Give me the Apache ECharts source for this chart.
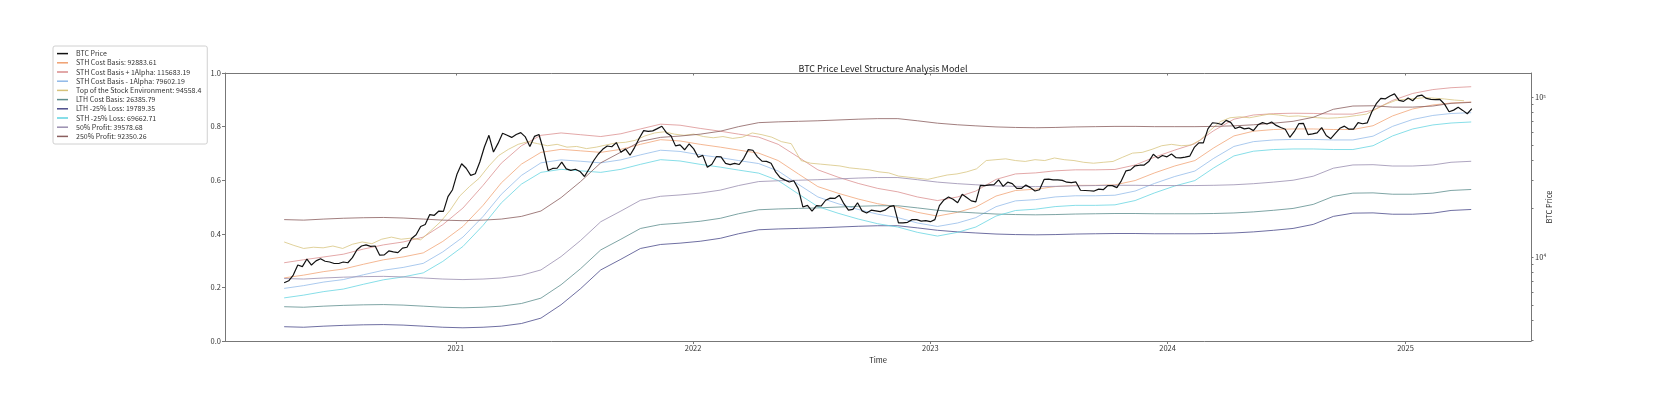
<!DOCTYPE html>
<html>
<head>
<meta charset="utf-8">
<script src="https://cdn.jsdelivr.net/npm/echarts@6/dist/echarts.min.js"></script>
<style>html,body{margin:0;padding:0;background:#fff}#c{width:1670px;height:396px}</style>
</head>
<body>
<div id="c"></div>
<script>
// ---- data ----
var legendNames = ['BTC Price','STH Cost Basis: 92883.61','STH Cost Basis + 1Alpha: 115683.19','STH Cost Basis - 1Alpha: 79602.19','Top of the Stock Environment: 94558.4','LTH Cost Basis: 26385.79','LTH -25% Loss: 19789.35','STH -25% Loss: 69662.71','50% Profit: 39578.68','250% Profit: 92350.26'];
var yearTicks = ['2021-01-01','2022-01-01','2023-01-01','2024-01-01','2025-01-01'];
var priceTickLabels = [10000, 100000];
var priceMinorTicks = [3000,4000,5000,6000,7000,8000,9000,10000,20000,30000,40000,50000,60000,70000,80000,90000,100000];

// weekly BTC price, starting 2020-04-12
var price2020 = [6900,7100,7700,8900,8700,9700,8900,9450,9750,9400,9300,9100,9100,9300,9200,9900,11100,11700,11900,11650,11700,10250,10300,10900,10750,10650,11350,11500,13050,13750,15500,15950,18400,18200,19350,19250,23800,26300];
var price2021 = [33000,38200,35800,32300,33100,39200,48600,57500,45200,51200,59200,57500,55800,58200,59800,56200,49000,56600,58200,46400,34700,35700,35800,39100,35500,34700,35300,34200,31800,35400,39900,43800,47000,49300,48800,51800,45100,47300,43200,48200,54900,61500,60900,61300,63300,65500,59700,57200,49400,50100,46700,50800];
var price2022 = [47300,41900,43100,36300,37900,42400,42200,38400,37700,38400,37800,41300,46800,46400,42200,39700,39500,38500,34000,31300,30300,29400,29900,26600,20500,21000,19300,20900,20800,22600,23300,23200,24300,21500,19600,19800,21800,19400,18800,19600,19400,19200,19600,20600,20900,16300,16300,16450,17100,17100,16750,16850];
var price2023 = [16600,17100,20900,22700,23700,22900,21800,24600,23500,22400,22100,28000,27900,28200,28300,30300,27600,29300,28700,26800,26800,28100,27100,25800,26300,30500,30600,30300,30300,30100,29300,29100,29400,26100,26000,25900,25800,26500,26300,27900,27900,27100,30000,34500,35000,37100,37400,37500,39400,43800,41400,43000,42200];
var price2024 = [43900,41700,41600,42000,42600,48300,51600,51600,63100,68900,68400,67200,71300,69300,63400,64900,63100,63800,61500,66900,69000,67700,69600,66300,64300,62700,55900,60800,68100,68200,58100,58700,59500,64200,57300,54800,59100,63600,65600,62800,62900,69000,67900,68700,80500,90600,97900,97200,101200,104300,95100,93700];
var price2025 = [98300,94500,101100,102600,97700,96500,96100,96300,90000,80700,82600,86000,82300,78400,84500];

// monthly series (12th of each month, 2020-04 .. 2025-04)
var sthCost = [7400,7700,8100,8400,9000,9600,10000,10600,12500, 15500,21000,29000,38000,45000,47000,46000,45000,47000,50500,54000,53000, 50500,48500,46500,44500,40000,33000,27500,25000,23000,21500,20500,19000, 18000,19000,20500,24000,26000,26500,27500,28000,28000,28200,30000,33500, 37000,40000,48000,57000,61000,62500,63000,63000,62500,62500,66000,76000, 84000,89000,91500,92883];
var sthPlus = [9200,9600,10000,10400,11200,11900,12400,13300,15900, 20200,28000,38500,49500,57500,59500,58000,56500,58800,63000,67500,66500, 63500,61000,58500,56000,50500,42000,35000,31500,28800,26800,25500,23700, 22500,23700,25800,30500,33000,33500,34500,35000,35000,35200,37500,42000, 46500,51000,61500,72500,77000,78500,79000,78800,78000,78000,82500,95000, 105000,111000,114000,115683];
var sthMinus = [6360,6620,6970,7220,7740,8260,8600,9120,10750, 13300,17900,24600,32300,38700,40400,39600,38700,40400,43400,46400,45600, 43400,41700,40000,38300,34400,28400,23700,21500,19800,18500,17600,16300, 15500,16300,17600,20600,22400,22800,23700,24100,24100,24300,25800,28800, 31800,34400,41300,49000,52500,53800,54200,54200,53800,53800,56800,65400, 72200,76500,78700,79602];
var sthLoss = [5550,5775,6075,6300,6750,7200,7500,7950,9375, 11625,15750,21750,28500,33750,35250,34500,33750,35250,37875,40500,39750, 37875,36375,34875,33375,30000,24750,20625,18750,17250,16125,15375,14250, 13500,14250,15375,18000,19500,19875,20625,21000,21000,21150,22500,25125, 27750,30000,36000,42750,45750,46875,47250,47250,46875,46875,49500,57000, 63000,66750,68625,69662];
var lthCost = [4888,4851,4926,4983,5022,5041,5002,4926,4851, 4813,4851,4926,5119,5530,6705,8448,11060,12900,15055,15950,16260, 16705,17430,18610,19712,19940,20093,20250,20484,20722,20884,20884,20250, 19560,19115,18823,18535,18395,18323,18395,18535,18610,18677,18677,18610, 18610,18610,18677,18823,19115,19560,20093,21290,23895,25030,25128,24645, 24645,25030,26015,26386];
var lthLoss = [3666,3638,3695,3737,3767,3781,3752,3695,3638, 3610,3638,3695,3839,4148,5029,6336,8295,9675,11291,11963,12195, 12529,13073,13958,14784,14955,15070,15188,15363,15542,15663,15663,15188, 14670,14336,14117,13901,13796,13742,13796,13901,13958,14008,14008,13958, 13958,13958,14008,14117,14336,14670,15070,15968,17921,18773,18846,18484, 18484,18773,19511,19789];
var profit50 = [7332,7277,7389,7475,7533,7562,7503,7389,7277, 7220,7277,7389,7679,8295,10058,12672,16590,19350,22583,23925,24390, 25058,26145,27915,29568,29910,30140,30375,30726,31083,31326,31326,30375, 29340,28673,28235,27803,27593,27485,27593,27803,27915,28016,28016,27915, 27915,27915,28016,28235,28673,29340,30140,31935,35843,37545,37692,36968, 36968,37545,39023,39579];
var profit250 = [17108,16979,17241,17441,17577,17644,17507,17241,16979, 16846,16979,17241,17917,19355,23468,29568,38710,45150,52693,55825,56910, 58468,61005,65135,68992,69790,70326,70875,71694,72527,73094,73094,70875, 68460,66903,65881,64873,64383,64131,64383,64873,65135,65370,65370,65135, 65135,65135,65370,65881,66903,68460,70326,74515,83633,87605,87948,86258, 86258,87605,91053,92350];

// every 15 days from 2020-04-12
var topStock = [12400,11800,11300,11500,11400,11700,11300,12000,12400,12100,12900,13300,12900,13100,12800,14500,16500,19500,24000,27500,31000,37000,43000,47000,50500,52500,51000,49500,50500,48500,49000,47500,48500,50000,51500,52000,53500,57000,59500,60500,58500,57500,58500,56500,55500,56500,55000,56000,59500,58000,56000,52500,51000,40000,38500,38000,37500,37000,36000,35500,35000,34000,33500,32000,31500,31000,30500,31500,32500,33000,34000,35500,40000,40500,41000,40000,39500,40500,40000,41500,40500,40000,39000,38500,39000,39500,42000,44500,45000,47000,49500,50500,49500,50000,54000,62000,70000,74000,75000,74000,76000,78000,77000,75500,76000,75000,74000,73500,74000,75000,76500,78000,84000,90000,95000,96500,97500,99000,98000,97000,95500,94558];

// ---- build ----
var DAY = 86400000;
var t0 = Date.UTC(2020, 3, 12);
var priceAll = [].concat(price2020, price2021, price2022, price2023, price2024, price2025);
function weekly(vals){ return vals.map(function(v,i){ return [t0 + i*7*DAY, v]; }); }
function every15(vals){ return vals.map(function(v,i){ return [t0 + i*15*DAY, v]; }); }
function monthly(vals){ return vals.map(function(v,i){ var m = 3 + i; return [Date.UTC(2020 + Math.floor(m/12), m%12, 12), v]; }); }

var colors = {
  price:'#111111', sthCost:'#f0a070', sthPlus:'#d98b8b', sthMinus:'#8fb8e8', top:'#d6c27a',
  lthCost:'#5f8f8f', lthLoss:'#4b4b8b', sthLoss:'#5fd3e0', p50:'#9a8fb0', p250:'#8b5f5f'
};
function line(name, data, color, width, op){
  return {name:name, type:'line', xAxisIndex:0, yAxisIndex:1, data:data, showSymbol:false, symbol:'none', silent:true,
    lineStyle:{color:color, width:width, opacity:op}, itemStyle:{color:color}, z:2};
}
var series = [
  line(legendNames[1], monthly(sthCost), colors.sthCost, 1, 0.75),
  line(legendNames[2], monthly(sthPlus), colors.sthPlus, 1, 0.75),
  line(legendNames[3], monthly(sthMinus), colors.sthMinus, 1, 0.75),
  line(legendNames[4], every15(topStock), colors.top, 1, 0.75),
  line(legendNames[5], monthly(lthCost), colors.lthCost, 1, 0.8),
  line(legendNames[6], monthly(lthLoss), colors.lthLoss, 1, 0.8),
  line(legendNames[7], monthly(sthLoss), colors.sthLoss, 1, 0.75),
  line(legendNames[8], monthly(profit50), colors.p50, 1, 0.8),
  line(legendNames[9], monthly(profit250), colors.p250, 1, 0.8),
  line(legendNames[0], weekly(priceAll), colors.price, 1.2, 1)
];
series[series.length-1].z = 5;

var FONT = 'Noto Sans CJK SC';
var axisCol = '#777';
var xMin = Date.UTC(2020,0,12), xMax = Date.UTC(2025,6,13);
var yearVals = yearTicks.map(function(s){ var p=s.split('-'); return Date.UTC(+p[0], +p[1]-1, +p[2]); });

var chart = echarts.init(document.getElementById('c'), null, {renderer:'canvas'});
chart.setOption({
  animation:false,
  backgroundColor:'#fff',
  textStyle:{fontFamily:FONT},
  title:{text:'BTC Price Level Structure Analysis Model', left:878, top:59, textAlign:'center',
    textStyle:{fontSize:9, fontWeight:'normal', color:'#222', fontFamily:FONT}},
  legend:{data:legendNames, orient:'vertical', left:53, top:46, icon:'rect', itemWidth:11, itemHeight:1.5,
    itemGap:0, padding:[3,6,3,4], borderColor:'#d0d0d0', borderWidth:1, borderRadius:2, backgroundColor:'#fff',
    textStyle:{fontSize:7, color:'#333', fontFamily:FONT, lineHeight:9.2, padding:[0,0,0,3]}, selectedMode:false},
  grid:{left:225, right:139, top:73, bottom:55, containLabel:false},
  xAxis:[
    {type:'value', min:xMin, max:xMax, position:'bottom', name:'Time', nameLocation:'middle', nameGap:13,
      nameTextStyle:{fontSize:7.5, color:'#222', fontFamily:FONT},
      axisLine:{show:true, lineStyle:{color:axisCol, width:1}},
      axisTick:{show:true, length:3, lineStyle:{color:axisCol}, customValues:yearVals},
      axisLabel:{show:true, fontSize:7.5, color:'#333', margin:3, customValues:yearVals,
        formatter:function(v){ return String(new Date(v).getUTCFullYear()); }},
      splitLine:{show:false}},
    {type:'value', min:xMin, max:xMax, position:'top',
      axisLine:{show:true, lineStyle:{color:axisCol, width:1}},
      axisTick:{show:true, inside:true, length:2.5, lineStyle:{color:axisCol}, customValues:yearVals},
      axisLabel:{show:false}, splitLine:{show:false}}
  ],
  yAxis:[
    {type:'value', min:0, max:1, interval:0.2, position:'left',
      axisLine:{show:true, lineStyle:{color:axisCol, width:1}},
      axisTick:{show:true, length:3, lineStyle:{color:axisCol}},
      axisLabel:{fontSize:7.5, color:'#333', margin:4, formatter:function(v){ return v.toFixed(1); }},
      splitLine:{show:false}},
    {type:'log', logBase:10, min:2985, max:140900, position:'right', name:'BTC Price', nameLocation:'middle',
      nameGap:14, nameRotate:90, nameMoveOverlap:false, nameTextStyle:{fontSize:7.5, color:'#222', fontFamily:FONT},
      axisLine:{show:true, lineStyle:{color:axisCol, width:1}},
      axisTick:{show:true, length:2.5, lineStyle:{color:axisCol}, customValues:priceMinorTicks},
      axisLabel:{show:true, fontSize:7.5, color:'#333', margin:4, customValues:priceTickLabels,
        formatter:function(v){ return Math.round(v) >= 100000 ? '10\u2075' : '10\u2074'; }},
      minorTick:{show:false}, splitLine:{show:false}}
  ],
  series:series
});
</script>
</body>
</html>
